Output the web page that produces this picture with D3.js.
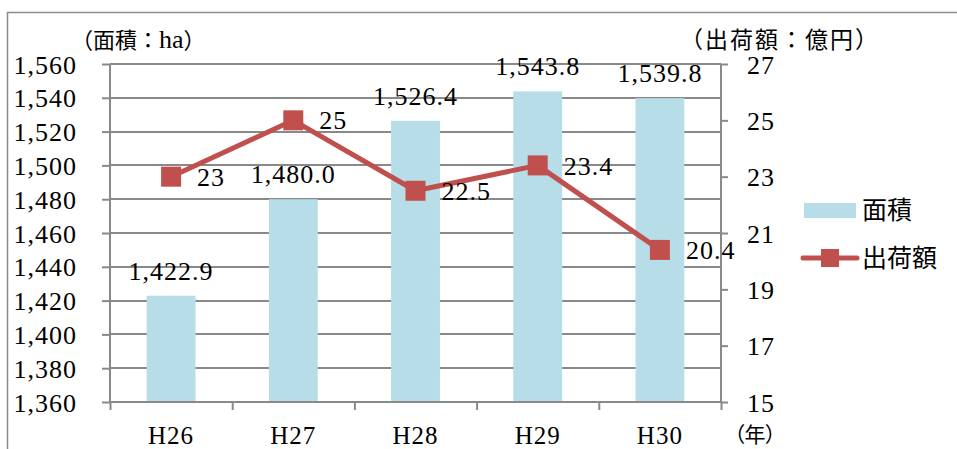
<!DOCTYPE html>
<html>
<head>
<meta charset="utf-8">
<script src="https://cdn.jsdelivr.net/npm/d3@7"></script>
<style>
  html, body { margin: 0; padding: 0; background: #fff; }
  svg { display: block; }
  .num { font-family: "Liberation Serif", "DejaVu Serif", serif; font-size: 26px; letter-spacing: 1px; fill: #000; }
  .jp { font-family: "Liberation Serif", "Noto Sans CJK JP", serif; fill: #000; }
  .palt { font-feature-settings: "palt"; }
</style>
</head>
<body>
<svg id="chart" width="957" height="449"></svg>
<script>
// Categories (fiscal years) and the two series
const years = ["H26", "H27", "H28", "H29", "H30"];
const area = [1422.9, 1480.0, 1526.4, 1543.8, 1539.8];      // 面積 (ha)
const shipment = [23, 25, 22.5, 23.4, 20.4];                 // 出荷額 (億円)
const leftTicks = [1360, 1380, 1400, 1420, 1440, 1460, 1480, 1500, 1520, 1540, 1560];
const rightTicks = [15, 17, 19, 21, 23, 25, 27];
const shipmentLabels = ["23", "25", "22.5", "23.4", "20.4"];

const svg = d3.select("#chart");
const plot = { left: 110, right: 721, top: 64, bottom: 402 };
const barColor = "#b7dde8", lineColor = "#c0504d", gridColor = "#898989";

// Outer frame
svg.append("rect")
  .attr("x", 7.5).attr("y", 12.5).attr("width", 1000).attr("height", 500)
  .attr("fill", "none").attr("stroke", "#8c8c8c").attr("stroke-width", 1.5);

const x = d3.scaleBand().domain(years).range([plot.left, plot.right])
  .paddingInner(0.6).paddingOuter(0.3);
const xEdge = d3.scaleLinear().domain([0, years.length]).range([plot.left, plot.right]);
const yL = d3.scaleLinear().domain([1360, 1560]).range([plot.bottom, plot.top]);
const yR = d3.scaleLinear().domain([15, 27]).range([plot.bottom, plot.top]);

// Horizontal gridlines
svg.append("g").selectAll("line").data(leftTicks).join("line")
  .attr("x1", plot.left).attr("x2", plot.right)
  .attr("y1", d => Math.round(yL(d))).attr("y2", d => Math.round(yL(d)))
  .attr("stroke", gridColor).attr("stroke-width", 2);

// Bars
svg.append("g").selectAll("rect").data(area).join("rect")
  .attr("x", (d, i) => x(years[i]))
  .attr("width", x.bandwidth())
  .attr("y", d => yL(d))
  .attr("height", d => yL(1360) - yL(d))
  .attr("fill", barColor);

// Left axis
const axL = svg.append("g").attr("transform", `translate(${plot.left},0)`)
  .call(d3.axisLeft(yL).tickValues(leftTicks).tickSize(8).tickFormat(d3.format(",")));
// Right axis
const axR = svg.append("g").attr("transform", `translate(${plot.right},0)`)
  .call(d3.axisRight(yR).tickValues(rightTicks).tickSize(7));
// Bottom axis with ticks at category boundaries
const axB = svg.append("g").attr("transform", `translate(0,${plot.bottom})`)
  .call(d3.axisBottom(xEdge).tickValues(d3.range(years.length + 1)).tickSize(8).tickFormat(""));

[axL, axR, axB].forEach(g => {
  g.select(".domain").attr("stroke", gridColor).attr("stroke-width", 2);
  g.selectAll(".tick line").attr("stroke", gridColor).attr("stroke-width", 2);
  g.selectAll("text").attr("class", "num").attr("font-size", null).attr("font-family", null).attr("fill", "#000");
});
axL.select(".domain").attr("d", `M0,${plot.top}V${plot.bottom}`);
axR.select(".domain").attr("d", `M0,${plot.top}V${plot.bottom}`);
axB.select(".domain").attr("d", `M${plot.left},0H${plot.right}`);
axL.selectAll(".tick text").attr("x", -33).attr("dy", "0.35em");
axR.selectAll(".tick text").attr("x", 26).attr("dy", "0.35em");

// Category labels
svg.append("g").selectAll("text").data(years).join("text")
  .attr("class", "num").style("font-size", "25px")
  .attr("x", d => x(d) + x.bandwidth() / 2).attr("y", 443.5)
  .attr("text-anchor", "middle")
  .text(d => d);

// Bar value labels
svg.append("g").selectAll("text").data(area).join("text")
  .attr("class", "num")
  .attr("x", (d, i) => x(years[i]) + x.bandwidth() / 2)
  .attr("y", d => yL(d) - 16)
  .attr("text-anchor", "middle")
  .text(d => d3.format(",.1f")(d));

// Shipment line with square markers
const cx = i => x(years[i]) + x.bandwidth() / 2;
svg.append("path")
  .datum(shipment)
  .attr("d", d3.line().x((d, i) => cx(i)).y(d => yR(d)))
  .attr("fill", "none").attr("stroke", lineColor).attr("stroke-width", 5)
  .attr("stroke-linejoin", "round");
const ms = 20;
svg.append("g").selectAll("rect").data(shipment).join("rect")
  .attr("x", (d, i) => cx(i) - ms / 2).attr("y", d => yR(d) - ms / 2)
  .attr("width", ms).attr("height", ms).attr("fill", lineColor);
svg.append("g").selectAll("text").data(shipment).join("text")
  .attr("class", "num")
  .attr("x", (d, i) => cx(i) + 26).attr("y", d => yR(d))
  .attr("dy", "0.35em")
  .text((d, i) => shipmentLabels[i]);

// Axis titles
const tL = svg.append("text").attr("class", "jp").attr("font-size", 22)
  .attr("x", 71).attr("y", 40).attr("dy", "0.35em");
tL.append("tspan").text("（面積：");
tL.append("tspan").attr("font-size", 26).text("ha");
tL.append("tspan").text("）");
svg.append("text").attr("class", "jp").attr("font-size", 23).style("letter-spacing", "2px")
  .attr("x", 680).attr("y", 40).attr("dy", "0.35em").text("（出荷額：億円）");
svg.append("text").attr("class", "jp palt").attr("font-size", 21)
  .attr("x", 734).attr("y", 435).attr("dy", "0.35em").text("（年）");

// Legend
const lg = svg.append("g");
lg.append("rect").attr("x", 804).attr("y", 203).attr("width", 52).attr("height", 15).attr("fill", barColor);
lg.append("text").attr("class", "jp").attr("font-size", 25).attr("x", 862).attr("y", 210).attr("dy", "0.35em").text("面積");
lg.append("line").attr("x1", 803).attr("x2", 857).attr("y1", 258).attr("y2", 258)
  .attr("stroke", lineColor).attr("stroke-width", 5).attr("stroke-linecap", "round");
lg.append("rect").attr("x", 821).attr("y", 249).attr("width", 18).attr("height", 18).attr("fill", lineColor);
lg.append("text").attr("class", "jp").attr("font-size", 25).attr("x", 862).attr("y", 258).attr("dy", "0.35em").text("出荷額");
</script>
</body>
</html>
